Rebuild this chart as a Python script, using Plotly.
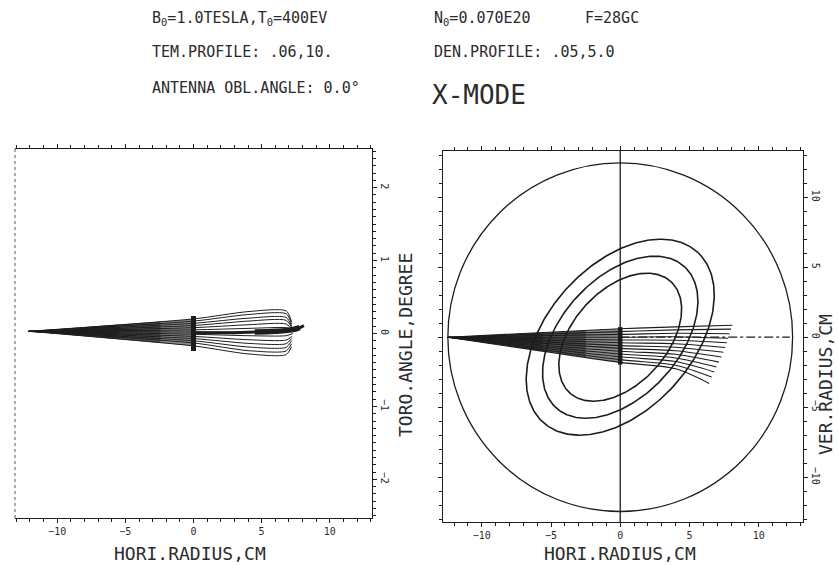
import numpy as np
import plotly.graph_objects as go

W, H = 838, 565
INK = "#1c1c1c"
TXT = "#2b2b2b"
MONO = "DejaVu Sans Mono, Liberation Mono, monospace"

# ---------------- ray data, toroidal view (HORI.RADIUS cm vs TORO.ANGLE deg) ----------------
tor_apex = (-12.1, 0.03)
tor_x_mid = [0.0, 4.0, 6.8]
tor_y0 = [0.20, 0.17, 0.14, 0.11, 0.08, 0.05, 0.02, -0.01, -0.04, -0.07, -0.10, -0.13, -0.17]
tor_y4 = [0.30, 0.26, 0.21, 0.17, 0.12, 0.07, 0.02, -0.03, -0.085, -0.135, -0.185, -0.235, -0.28]
tor_y7 = [0.31, 0.27, 0.22, 0.18, 0.13, 0.08, 0.03, -0.03, -0.09, -0.14, -0.19, -0.24, -0.29]
tor_xe = [7.2, 7.2, 7.2, 7.25, 7.3, 7.5, 7.6, 7.3, 7.25, 7.2, 7.2, 7.2, 7.2]
tor_ye = [0.16, 0.13, 0.10, 0.07, 0.05, 0.05, 0.04, 0.00, -0.04, -0.07, -0.10, -0.14, -0.18]
tor_bar = (0.24, -0.24)
horn_x = [0.0, 3.0, 4.5, 6.0, 7.2, 7.8, 8.1]
horn_y = [0.01, 0.01, 0.02, 0.03, 0.05, 0.08, 0.11]

# ---------------- ray data, poloidal view (HORI.RADIUS cm vs VER.RADIUS cm) ----------------
pol_apex = (-12.45, 0.0)
pol_x_mid = [0.0, 4.0]
pol_y0 = [0.60, 0.40, 0.20, 0.00, -0.20, -0.40, -0.60, -0.80, -1.00, -1.20, -1.40, -1.60, -1.80]
pol_y4 = [0.74, 0.52, 0.28, 0.03, -0.22, -0.47, -0.72, -0.97, -1.22, -1.48, -1.74, -2.00, -2.26]
pol_xe = [8.10, 8.00, 7.90, 7.80, 7.70, 7.58, 7.45, 7.30, 7.12, 6.95, 6.78, 6.60, 6.42]
pol_ye = [0.85, 0.58, 0.25, -0.08, -0.40, -0.74, -1.08, -1.42, -1.78, -2.13, -2.48, -2.85, -3.30]
pol_bar = (0.72, -1.95)

# plasma cross-section: limiter and tilted flux surfaces
limiter_r = 12.45
surf_a = [5.4, 6.85, 8.25]
surf_b = [3.38, 4.25, 5.2]
surf_tilt_deg = 47.0

# the launched fan is shaded in stacked layers, darkest near the antenna
fan_layers = [1.0, 0.8, 0.55]

fig = go.Figure()


def px(x):
    return x / W


def py(y):
    return 1 - y / H


def fan(apex, top, bottom, xa, ya):
    ax_, ay_ = apex
    for f in fan_layers:
        xc = ax_ + f * (0 - ax_)
        fig.add_trace(go.Scatter(
            x=[ax_, xc, xc, ax_],
            y=[ay_, ay_ + f * (top - ay_), ay_ + f * (bottom - ay_), ay_],
            mode="lines", fill="toself", fillcolor="rgba(25,25,25,0.5)", line=dict(width=0),
            xaxis=xa, yaxis=ya, hoverinfo="skip"))


# ---- toroidal panel ----
ax, ay = tor_apex
fan(tor_apex, tor_y0[0], tor_y0[-1], "x", "y")
for i in range(len(tor_y0)):
    fig.add_trace(go.Scatter(
        x=[ax] + tor_x_mid + [tor_xe[i]],
        y=[ay, tor_y0[i], tor_y4[i], tor_y7[i], tor_ye[i]],
        mode="lines", line=dict(color=INK, width=1, shape="spline", smoothing=0.7),
        xaxis="x", yaxis="y", hoverinfo="skip"))
fig.add_trace(go.Scatter(x=horn_x, y=horn_y, mode="lines",
                         line=dict(color=INK, width=3, shape="spline"),
                         xaxis="x", yaxis="y", hoverinfo="skip"))
fig.add_trace(go.Scatter(x=horn_x[2:6], y=horn_y[2:6], mode="lines",
                         line=dict(color=INK, width=5.5, shape="spline"),
                         xaxis="x", yaxis="y", hoverinfo="skip"))
fig.add_trace(go.Scatter(x=[0, 0], y=list(tor_bar), mode="lines",
                         line=dict(color=INK, width=5),
                         xaxis="x", yaxis="y", hoverinfo="skip"))

# ---- poloidal panel ----
bx, by = pol_apex
t = np.linspace(0, 2 * np.pi, 361)
th = np.deg2rad(surf_tilt_deg)
for a, b in zip(surf_a, surf_b):
    ex = a * np.cos(t) * np.cos(th) - b * np.sin(t) * np.sin(th)
    ey = a * np.cos(t) * np.sin(th) + b * np.sin(t) * np.cos(th)
    fig.add_trace(go.Scatter(x=ex, y=ey, mode="lines", line=dict(color=INK, width=1.6),
                             xaxis="x2", yaxis="y2", hoverinfo="skip"))
fan(pol_apex, pol_y0[0], pol_y0[-1], "x2", "y2")
for i in range(len(pol_y0)):
    fig.add_trace(go.Scatter(
        x=[bx] + pol_x_mid + [pol_xe[i]],
        y=[by, pol_y0[i], pol_y4[i], pol_ye[i]],
        mode="lines", line=dict(color=INK, width=1.1, shape="spline", smoothing=0.8),
        xaxis="x2", yaxis="y2", hoverinfo="skip"))
fig.add_trace(go.Scatter(x=[0, 0], y=list(pol_bar), mode="lines",
                         line=dict(color=INK, width=4.5),
                         xaxis="x2", yaxis="y2", hoverinfo="skip"))
fig.add_trace(go.Scatter(x=[0, limiter_r - 0.2], y=[0, 0], mode="lines",
                         line=dict(color=INK, width=1.2, dash="dashdot"),
                         xaxis="x2", yaxis="y2", hoverinfo="skip"))

shapes = [
    dict(type="circle", xref="x2", yref="y2", x0=-limiter_r, x1=limiter_r,
         y0=-limiter_r, y1=limiter_r, line=dict(color=INK, width=1.3)),
    dict(type="line", xref="x2", yref="y2 domain", x0=0, x1=0, y0=0, y1=1,
         line=dict(color=INK, width=1.3)),
    dict(type="line", xref="x domain", yref="y domain", x0=0, x1=0, y0=0, y1=1,
         line=dict(color="#555", width=1, dash="dot")),
]

frame = dict(showline=True, linecolor=INK, linewidth=1.3, ticks="outside",
             tickcolor=INK, tickwidth=1.2, ticklen=4, showgrid=False, zeroline=False,
             tickfont=dict(family=MONO, size=10, color=TXT))
minor_x = dict(dtick=1, ticklen=2.5, tickcolor=INK, ticks="outside")

dom_l = [px(15), px(372)]
dom_r = [px(443), px(803)]
dom_ly = [py(518), py(149)]
dom_ry = [py(522), py(151)]

fig.update_layout(
    width=W, height=H, margin=dict(l=0, r=0, t=0, b=0),
    paper_bgcolor="white", plot_bgcolor="white", showlegend=False,
    xaxis=dict(domain=dom_l, range=[-13.1, 13.1], anchor="y", tickvals=[-10, -5, 0, 5, 10],
               mirror="ticks", minor=minor_x, **frame),
    yaxis=dict(domain=dom_ly, range=[-2.53, 2.53], anchor="x", side="right",
               tickvals=[-2, -1, 0, 1, 2], tickangle=90,
               minor=dict(dtick=0.1, ticklen=2.5, tickcolor=INK, ticks="outside"), **frame),
    yaxis3=dict(domain=dom_ly, range=[-2.53, 2.53], anchor="x", side="left", overlaying="y",
                showline=False, showgrid=False, zeroline=False, showticklabels=False,
                ticks="outside", tickvals=[-2, -1, 0, 1, 2], ticklen=5, tickcolor="#333",
                tickwidth=1.2,
                minor=dict(dtick=0.1, ticklen=3, tickcolor="#333", ticks="outside")),
    xaxis2=dict(domain=dom_r, range=[-12.8, 13.2], anchor="y2", tickvals=[-10, -5, 0, 5, 10],
                mirror="ticks", minor=minor_x, **frame),
    yaxis2=dict(domain=dom_ry, range=[-13.2, 13.3], anchor="x2", side="right",
                tickvals=[-10, -5, 0, 5, 10], tickangle=90, mirror="ticks",
                minor=dict(dtick=1, ticklen=2.5, tickcolor=INK, ticks="outside"), **frame),
    shapes=shapes,
)

ann = []


def label(text, x, y, size, angle=0, xanchor="left"):
    ann.append(dict(text=text, x=px(x), y=py(y), xref="paper", yref="paper",
                    xanchor=xanchor, yanchor="middle", showarrow=False, textangle=angle,
                    font=dict(family=MONO, size=size, color=TXT)))


label("B<sub>0</sub>=1.0TESLA,T<sub>0</sub>=400EV", 150, 18, 15)
label("N<sub>0</sub>=0.070E20", 432, 18, 15)
label("F=28GC", 583, 18, 15)
label("TEM.PROFILE: .06,10.", 150, 52, 15)
label("DEN.PROFILE: .05,5.0", 432, 52, 15)
label("ANTENNA OBL.ANGLE: 0.0°", 150, 88, 15)
label("X-MODE", 430, 95, 26)
label("HORI.RADIUS,CM", 190, 553, 18, xanchor="center")
label("HORI.RADIUS,CM", 620, 553, 18, xanchor="center")
label("TORO.ANGLE,DEGREE", 405, 345, 18, angle=-90, xanchor="center")
label("VER.RADIUS,CM", 826, 385, 18, angle=-90, xanchor="center")
fig.update_layout(annotations=ann)

fig.write_html("out.html")
